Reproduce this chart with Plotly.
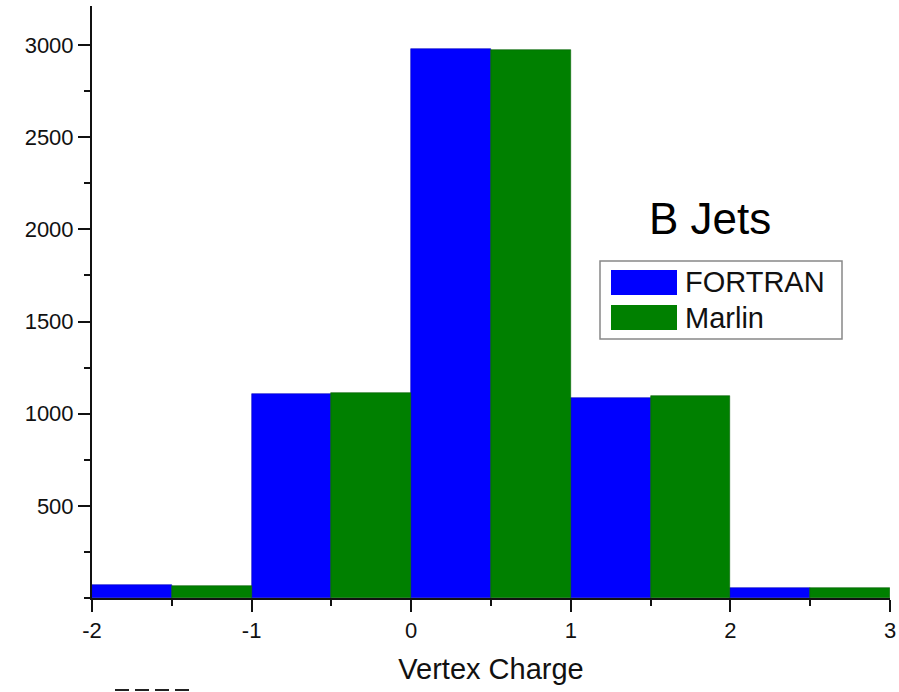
import plotly.graph_objects as go

# Data
fortran_centers = [-1.75, -0.75, 0.25, 1.25, 2.25]
fortran_counts = [70, 1107, 2978, 1087, 53]
marlin_centers = [-1.25, -0.25, 0.75, 1.75, 2.75]
marlin_counts = [63, 1111, 2972, 1096, 55]
bin_width = 0.5
x_ticks = [-2, -1, 0, 1, 2, 3]
y_ticks = [500, 1000, 1500, 2000, 2500, 3000]

BLUE = "#0000FF"
GREEN = "#008000"

fig = go.Figure()
fig.add_trace(go.Bar(x=fortran_centers, y=fortran_counts, width=bin_width, name="FORTRAN",
                     marker=dict(color=BLUE, line=dict(color="#0000c0", width=0.6))))
fig.add_trace(go.Bar(x=marlin_centers, y=marlin_counts, width=bin_width, name="Marlin",
                     marker=dict(color=GREEN, line=dict(color="#006000", width=0.6))))

L, R, T, B = 92, 9, 6, 94
W, H = 899, 692
pw, ph = W - L - R, H - T - B

def px(xp):
    return (xp - L) / pw

def py(yp):
    return (H - B - yp) / ph

fig.update_layout(
    width=W, height=H,
    margin=dict(l=L, r=R, t=T, b=B, pad=0, autoexpand=False),
    paper_bgcolor="white", plot_bgcolor="white",
    showlegend=False, barmode="overlay", bargap=0,
    font=dict(family="Arial, Liberation Sans, sans-serif", color="#111111"),
    xaxis=dict(range=[-2, 3], tickvals=x_ticks, ticktext=[str(v) for v in x_ticks],
               automargin=False,
               showgrid=False, zeroline=False, showline=True, linecolor="#111111", linewidth=2,
               ticks="outside", ticklen=12, tickwidth=2, tickcolor="#111111",
               tickfont=dict(size=22),
               minor=dict(dtick=0.5, tick0=0, ticks="outside", ticklen=6, tickwidth=2, tickcolor="#111111"),
               title=dict(text="Vertex Charge", font=dict(size=29), standoff=16)),
    yaxis=dict(range=[0, 3212], tickvals=y_ticks, ticktext=[str(v) for v in y_ticks],
               automargin=False,
               showgrid=False, zeroline=False, showline=True, linecolor="#111111", linewidth=2,
               ticks="outside", ticklen=12, tickwidth=2, tickcolor="#111111",
               tickfont=dict(size=22),
               minor=dict(dtick=250, tick0=0, ticks="outside", ticklen=6, tickwidth=2, tickcolor="#111111")),
)

# Manual legend (large swatches like the reference)
fig.add_shape(type="rect", xref="paper", yref="paper",
              x0=px(600), x1=px(842), y0=py(339), y1=py(261),
              line=dict(color="#888888", width=1.5), fillcolor="white", layer="above")
fig.add_shape(type="rect", xref="paper", yref="paper",
              x0=px(611), x1=px(677), y0=py(295), y1=py(270),
              line=dict(width=0), fillcolor=BLUE, layer="above")
fig.add_shape(type="rect", xref="paper", yref="paper",
              x0=px(611), x1=px(677), y0=py(330), y1=py(305),
              line=dict(width=0), fillcolor=GREEN, layer="above")
fig.add_annotation(x=px(683), y=py(282), xref="paper", yref="paper", text="FORTRAN",
                   showarrow=False, xanchor="left", yanchor="middle", font=dict(size=29, color="#111111"))
fig.add_annotation(x=px(683), y=py(318), xref="paper", yref="paper", text="Marlin",
                   showarrow=False, xanchor="left", yanchor="middle", font=dict(size=29, color="#111111"))
fig.add_annotation(x=px(710), y=py(218), xref="paper", yref="paper", text="B Jets",
                   showarrow=False, xanchor="center", yanchor="middle", font=dict(size=44, color="#000000"))

# dashed fragment at bottom-left
fig.add_shape(type="line", xref="paper", yref="paper",
              x0=px(115), x1=px(190), y0=py(690), y1=py(690),
              line=dict(color="#222222", width=2, dash="14px,6px"))

fig.write_html("out.html", config={"displayModeBar": False},
               post_script="document.body.style.margin='0';document.body.style.overflow='hidden';")
